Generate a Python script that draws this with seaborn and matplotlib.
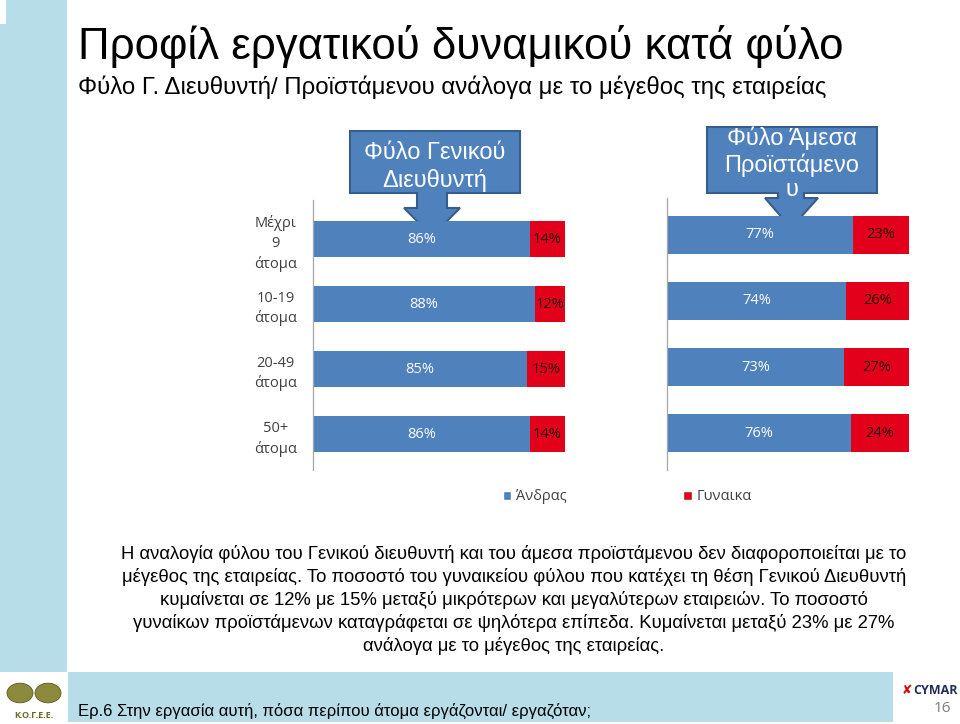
import matplotlib
matplotlib.use("Agg")
import matplotlib.pyplot as plt
from matplotlib.patches import Polygon, Rectangle, Patch, Circle
import seaborn as sns
import pandas as pd

# ---------------- data ----------------
categories = ["Μέχρι\n9\nάτομα", "10-19\nάτομα", "20-49\nάτομα", "50+\nάτομα"]
gm_men = [86, 88, 85, 86]
gm_women = [14, 12, 15, 14]
sup_men = [77, 74, 73, 76]
sup_women = [23, 26, 27, 24]
series_labels = ["Άνδρας", "Γυναικα"]

title = "Προφίλ εργατικού δυναμικού κατά φύλο"
subtitle = "Φύλο Γ. Διευθυντή/ Προϊστάμενου ανάλογα με το μέγεθος της εταιρείας"
callout_left = "Φύλο Γενικού\nΔιευθυντή"
callout_right = "Φύλο Άμεσα\nΠροϊστάμενο\nυ"
body = ("Η αναλογία φύλου του Γενικού διευθυντή και του άμεσα προϊστάμενου δεν διαφοροποιείται με το\n"
        "μέγεθος της εταιρείας. Το ποσοστό του γυναικείου φύλου που κατέχει τη θέση Γενικού Διευθυντή\n"
        "κυμαίνεται σε 12% με 15% μεταξύ μικρότερων και μεγαλύτερων εταιρειών. Το ποσοστό\n"
        "γυναίκων προϊστάμενων καταγράφεται σε ψηλότερα επίπεδα. Κυμαίνεται μεταξύ 23% με 27%\n"
        "ανάλογα με το μέγεθος της εταιρείας.")
footer = "Ερ.6 Στην εργασία αυτή, πόσα περίπου άτομα εργάζονται/ εργαζόταν;"
page_no = "16"

BLUE = "#4f81bd"
RED = "#e2001a"
STRIPE = "#b7dde8"
BORDER = "#385d8a"

sns.set_theme(style="white")
plt.rcParams["font.family"] = ["Open Sans", "DejaVu Sans"]

W, H = 960, 724
fig = plt.figure(figsize=(W / 100, H / 100), dpi=100)
fig.patch.set_facecolor("white")


def fx(x):
    return x / W


def fy(y):
    return 1 - y / H


NARROW = ["Liberation Sans Narrow", "Liberation Sans", "DejaVu Sans"]
ARIAL = ["Liberation Sans", "DejaVu Sans"]

# ---------------- slide decorations ----------------
fig.patches.append(Rectangle((fx(0), fy(672)), fx(67), 672 / H, transform=fig.transFigure,
                             facecolor=STRIPE, edgecolor="none", zorder=0))
fig.patches.append(Rectangle((fx(0), fy(24)), fx(6), 24 / H, transform=fig.transFigure,
                             facecolor="white", edgecolor="none", zorder=0))
fig.patches.append(Rectangle((fx(68), fy(722)), fx(893 - 68), 50 / H, transform=fig.transFigure,
                             facecolor=STRIPE, edgecolor="none", zorder=0))

fig.text(fx(78), fy(47), title, fontsize=31.5, family=NARROW, color="black", va="center", ha="left")
fig.text(fx(78), fy(87), subtitle, fontsize=17.3, family=NARROW, color="black", va="center", ha="left")

# ---------------- callouts ----------------
def callout(x0, x1, y0, y1, sx0, sx1, hx0, hx1, hy, tip):
    cx = (sx0 + sx1) / 2
    pts = [(x0, y0), (x1, y0), (x1, y1), (sx1, y1), (sx1, hy), (hx1, hy), (cx, tip),
           (hx0, hy), (sx0, hy), (sx0, y1), (x0, y1)]
    pts = [(fx(a), fy(b)) for a, b in pts]
    fig.patches.append(Polygon(pts, closed=True, transform=fig.transFigure, facecolor=BLUE,
                               edgecolor=BORDER, linewidth=1.5, zorder=0.5))


callout(350, 520, 131, 193, 417, 447, 404, 460, 208, 236)
callout(707, 877, 127, 193, 778, 804, 765, 818, 198, 228)
fig.text(fx(435), fy(167), callout_left, fontsize=17, family=NARROW, color="white",
         ha="center", va="center", linespacing=1.3, zorder=2)
fig.text(fx(792), fy(164), callout_right, fontsize=17, family=NARROW, color="white",
         ha="center", va="center", linespacing=1.15, zorder=2)

# ---------------- charts ----------------
def panel(rect_px, men, women, ylim, width, show_labels):
    left, top, right, bottom = rect_px
    ax = fig.add_axes([fx(left), fy(bottom), fx(right - left), (bottom - top) / H])
    ax.set_facecolor("none")
    ax.set_zorder(1)
    total = [m + w for m, w in zip(men, women)]
    df = pd.DataFrame({"cat": categories, "total": total, "men": men, "women": women})
    sns.barplot(data=df, x="total", y="cat", orient="h", color=RED, width=width,
                saturation=1, ax=ax)
    sns.barplot(data=df, x="men", y="cat", orient="h", color=BLUE, width=width,
                saturation=1, ax=ax)
    for p in ax.patches:
        p.set_edgecolor("none")
    ax.set_xlim(0, 100)
    ax.set_ylim(*ylim)
    ax.set_xlabel("")
    ax.set_ylabel("")
    ax.set_xticks([])
    for s in ["top", "right", "bottom"]:
        ax.spines[s].set_visible(False)
    ax.spines["left"].set_color("#a6a6a6")
    ax.spines["left"].set_linewidth(0.9)
    if show_labels:
        ax.set_yticks(range(len(categories)))
        ax.set_yticklabels(categories, ha="center", fontsize=10.5, color="#404040",
                           linespacing=1.4)
        ax.tick_params(axis="y", length=0, pad=27)
    else:
        ax.set_yticks([])
    for i, (m, w) in enumerate(zip(men, women)):
        ax.text(m / 2, i, f"{m}%", ha="center", va="center", color="white", fontsize=10.5)
        ax.text(m + w / 2, i, f"{w}%", ha="center", va="center", color="#2a0a0a", fontsize=10.5)
    return ax


ax1 = panel((313, 200, 565, 470), gm_men, gm_women, (3.55, -0.6), 0.56, True)
ax2 = panel((667, 198, 909, 470), sup_men, sup_women, (3.56, -0.56), 0.58, False)

handles = [Patch(facecolor=BLUE), Patch(facecolor=RED)]
fig.legend(handles, series_labels, loc="center", bbox_to_anchor=(fx(627), fy(497)), ncol=2,
           frameon=False, fontsize=10.5, handlelength=0.6, handleheight=0.6, handletextpad=0.3,
           columnspacing=8.0, labelcolor="#404040")

# ---------------- body text ----------------
fig.text(fx(514), fy(600), body, fontsize=13.3, family=ARIAL, color="black", ha="center",
         va="center", linespacing=1.36)

# ---------------- footer ----------------
fig.text(fx(78), fy(711), footer, fontsize=12, family=ARIAL, color="black", ha="left",
         va="center")
fig.text(fx(942), fy(708), page_no, fontsize=11, color="#7f7f7f", ha="center", va="center")
fig.text(fx(935), fy(691), "CYMAR", fontsize=9, weight="bold", color="#1f2f5a",
         ha="center", va="center")
fig.text(fx(907), fy(690), "✘", fontsize=9, color="#d01010", ha="center", va="center")

# KOGEE logo approximation
for cx in (20, 48):
    fig.patches.append(Circle((fx(cx), fy(693)), 13 / W, transform=fig.transFigure,
                              facecolor="#8c8a3c", edgecolor="#5b5a20", linewidth=0.6, zorder=1))
fig.text(fx(34), fy(716), "Κ.Ο.Γ.Ε.Ε.", fontsize=6.5, weight="bold", color="#6b6a2a",
         ha="center", va="center")

fig.savefig("out.png", dpi=100)
